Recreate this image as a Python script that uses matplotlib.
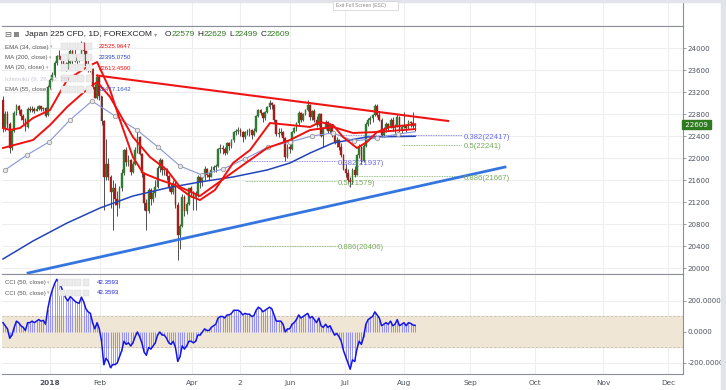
import matplotlib
matplotlib.use("Agg")
import matplotlib.pyplot as plt
from matplotlib.patches import Rectangle
import numpy as np

W, H = 726, 390

# ---------------- data ----------------
opens = [23050,22540,22800,22620,22180,22500,22810,22940,22870,22760,22690,22560,22900,22870,22890,22860,22900,22940,22890,22910,
         22780,23290,23420,23510,23720,23860,23850,23790,23710,23650,23720,23950,23870,23770,23810,23820,24100,23940,23670,23630,23620,23290,
         23100,23480,23120,22680,21650,21900,21650,21380,21450,21250,21150,21460,21720,22150,21920,21970,21740,21890,22150,22390,
         22070,21720,21180,21040,21420,21250,21370,21470,21820,21970,21780,21800,21680,21480,21380,21550,21150,20600,20760,21300,21030,21160,
         21450,21390,21290,21320,21650,21570,21680,21800,21690,21660,21780,21840,21850,22160,22190,22160,22090,22280,22220,22320,22470,
         22490,22510,22470,22380,22470,22470,22510,22410,22500,22760,22870,22820,22720,22840,22930,23000,22960,22690,22440,22450,22480,22360,22020,
         22200,22170,22480,22540,22630,22820,22690,22800,22880,
         22970,22740,22850,22700,22600,22800,22400,22550,22660,22500,22600,22420,22300,22330,22200,22050,21800,21720,21600,21560,21790,21700,
         22050,22200,21950,22220,22620,22700,22720,22780,22950,22780,22700,22420,22520,22620,22560,22700,22540,22580,22740,22520,22560,22580,
         22540,22660,22640,22579]
highs = [23120,22850,22850,22650,22520,22850,22980,22960,22900,22800,22720,22920,22950,22950,22920,22940,22960,22950,22930,22920,
         23320,23450,23560,23760,23880,23960,23900,23800,23750,23800,24000,23990,24080,23860,23900,24120,24110,23950,23780,23700,23640,23340,
         23520,23500,23130,22690,22350,22000,21700,21600,21550,21400,21500,21800,22160,22200,22050,21980,21950,22200,22500,22400,
         22100,21750,21250,21450,21450,21420,21600,21850,22000,21980,21850,21820,21700,21550,21600,21600,21200,20800,21350,21320,21200,21460,
         21500,21400,21400,21700,21700,21700,21850,21820,21750,21850,21880,21900,22180,22250,22230,22200,22300,22300,22350,22500,22520,
         22560,22540,22500,22500,22530,22550,22520,22550,22790,22900,22900,22830,22860,22950,23050,23020,22980,22700,22550,22550,22500,22380,22250,
         22250,22500,22560,22650,22850,22830,22820,22900,23050,
         22980,22880,22900,22760,22820,22820,22560,22700,22680,22640,22620,22450,22380,22350,22280,22080,21900,21800,21650,21820,21850,22080,
         22250,22220,22250,22650,22720,22760,22800,22980,22980,22850,22720,22560,22650,22640,22720,22740,22620,22800,22760,22600,22840,22620,
         22700,22680,22840,22629]
lows = [22480,22500,22550,22090,22150,22480,22780,22800,22700,22620,22500,22540,22830,22830,22820,22850,22870,22850,22860,22740,
        22760,23250,23400,23480,23700,23800,23700,23600,23580,23620,23700,23650,23750,23700,23750,23800,23900,23620,23560,23560,23250,23090,
        23080,23050,22600,21050,21600,21600,21100,20700,21150,20950,21100,21400,21700,21850,21850,21700,21720,21870,22100,22050,
        21650,21050,20700,21000,21150,21200,21300,21450,21750,21700,21700,21600,21400,21350,21350,21100,20150,20350,20740,20950,20980,21140,
        21300,21050,21050,21300,21450,21500,21600,21650,21600,21650,21750,21750,21840,22100,22080,22050,22080,22150,22180,22300,22420,
        22430,22400,22300,22350,22420,22400,22350,22400,22480,22740,22780,22650,22700,22820,22900,22900,22650,22400,22380,22420,22300,21950,22000,
        22100,22150,22450,22500,22600,22650,22680,22780,22850,
        22700,22700,22650,22560,22580,22380,22200,22520,22450,22460,22380,22250,22200,22150,22020,21780,21650,21550,21470,21530,21650,21690,
        22000,21900,21930,22200,22580,22620,22650,22760,22750,22680,22380,22390,22480,22500,22540,22500,22450,22560,22480,22450,22540,22480,
        22520,22560,22550,22499]
closes = [22540,22800,22620,22180,22500,22810,22940,22870,22760,22690,22560,22900,22870,22890,22860,22900,22940,22890,22910,22770,
          23290,23420,23510,23720,23860,23850,23790,23710,23650,23720,23950,23870,23770,23810,23820,24100,23940,23670,23630,23620,23290,23100,
          23480,23120,22680,21650,21900,21650,21380,21450,21250,21150,21460,21720,22150,21920,21970,21740,21890,22150,22390,22070,
          21720,21180,21040,21420,21250,21370,21470,21820,21970,21780,21800,21680,21480,21380,21550,21150,20600,20760,21300,21030,21160,21450,
          21390,21290,21320,21650,21570,21680,21800,21690,21660,21780,21840,21850,22160,22190,22160,22090,22280,22220,22320,22470,22490,
          22510,22470,22380,22470,22470,22510,22410,22500,22760,22870,22820,22720,22840,22930,23000,22960,22690,22440,22450,22480,22360,22020,22200,
          22170,22480,22540,22630,22820,22690,22800,22880,22970,
          22740,22850,22700,22600,22800,22400,22550,22660,22500,22600,22420,22300,22330,22200,22050,21800,21720,21600,21560,21790,21700,22050,
          22200,21950,22220,22620,22700,22720,22780,22950,22780,22700,22420,22520,22620,22560,22700,22540,22580,22740,22520,22560,22580,22540,
          22660,22640,22590,22609]

cci = [60,40,20,-40,-20,30,70,60,40,30,10,60,60,70,60,70,80,70,75,50,
       150,220,270,310,340,320,290,250,220,200,230,215,200,190,185,225,195,150,130,120,60,20,
       60,20,-60,-210,-170,-190,-230,-210,-210,-200,-160,-120,-60,-80,-70,-90,-70,-30,0,-30,
       -70,-130,-150,-100,-110,-90,-70,-20,0,-20,-20,-40,-70,-80,-60,-100,-190,-160,-90,-110,-90,-60,
       -60,-70,-60,-20,-20,0,20,10,10,30,40,50,90,100,100,90,110,110,120,140,140,
       140,130,110,120,115,115,100,105,140,160,150,130,140,150,160,150,110,70,70,70,50,0,20,
       20,50,60,80,110,90,100,110,120,
       90,100,80,60,90,40,30,50,30,40,10,-20,-10,-30,-60,-120,-160,-200,-240,-180,-190,-110,-60,-80,-30,
       50,80,90,100,130,110,90,40,50,60,50,70,40,50,80,40,50,60,40,60,55,45,42.36]

# indicator lines read at sample bars
ma200_x = [0, 13.4, 28.6, 43.3, 58.0, 73.2, 87.9, 102.7, 117.9, 128.1, 137.1, 147.3, 162.5, 184]
ma200_y = [20164, 20491, 20818, 21091, 21309, 21455, 21564, 21655, 21782, 21909, 22091, 22273, 22382, 22395]

ema55_x = [0.9, 10.7, 20.5, 29.9, 39.7, 50.0, 59.8, 69.2, 79.0, 88.8, 98.2, 108.0, 118.3, 128.1, 137.9, 147.3, 156.7, 167.0, 176.3, 184]
ema55_y = [21782, 22055, 22291, 22691, 23036, 22764, 22509, 22200, 21855, 21691, 21800, 21982, 22200, 22291, 22400, 22455, 22309, 22364, 22436, 22477]

ma20_x = [0, 3.1, 7.6, 13.4, 21.0, 28.6, 37.5, 42.0, 47.8, 52.2, 58.0, 62.5, 70.1, 76.8, 83.5, 87.9, 94.6, 102.7, 110.3, 119.2,
          128.1, 137.1, 141.5, 147.3, 151.8, 158.0, 162.5, 167.0, 172.8, 184]
ma20_y = [22545, 22509, 22545, 22727, 22873, 23418, 23655, 23745, 23236, 22691, 22018, 21727, 21600, 21509, 21309, 21236, 21418, 21909, 22145, 22636,
          22600, 22564, 22655, 22600, 22382, 22182, 22291, 22473, 22564, 22613]

ema34_x = [0, 13.4, 21.0, 28.6, 35.7, 42.0, 47.8, 58.0, 65.6, 73.2, 79.0, 87.9, 102.7, 117.9, 128.1, 137.1, 147.3, 156.3, 167.0, 184]
ema34_y = [22182, 22327, 22600, 22927, 23182, 23382, 23109, 22382, 22018, 21782, 21473, 21309, 21745, 22182, 22327, 22509, 22564, 22455, 22473, 22526]

# trend lines (bar, price)
down_x, down_y = [42.0, 198.7], [23500, 22673]
up_x, up_y = [11.2, 224.1], [19909, 21836]

# fibonacci levels
fib_labels = ["0.382(21937)", "0.5(21579)", "0.886(20406)", "0.382(22417)", "0.5(22241)", "0.886(21667)"]
fib_prices = [21937, 21579, 20406, 22417, 22241, 21667]
fib_x0 = [108.0, 108.0, 107.0, 150.0, 178.0, 155.0]
fib_x1 = [149.0, 149.0, 149.0, 205.0, 205.0, 205.0]
fib_kind = ["b", "g", "g", "b", "g", "g"]

month_labels = ["2018", "Feb", "Apr", "2", "Jun", "Jul", "Aug", "Sep", "Oct", "Nov", "Dec"]
month_pos = [20.9, 43.3, 84.4, 105.8, 128.1, 152.7, 179.0, 208.5, 237.5, 267.9, 296.9]

price_ticks = [20000, 20400, 20800, 21200, 21600, 22000, 22400, 22800, 23200, 23600, 24000]
cci_ticks = [-200, 0, 200]

# ---------------- figure ----------------
plt.rcParams['font.family'] = ["DejaVu Sans"]
SANS = ["Liberation Sans", "DejaVu Sans"]
TXT = "#4c525e"
GRID = "#eeeeee"
AXC = "#8a8f99"

fig = plt.figure(figsize=(W / 100, H / 100), dpi=100)
fig.patch.set_facecolor("white")

def fr(x0, y0, x1, y1):
    return [x0 / W, 1 - y1 / H, (x1 - x0) / W, (y1 - y0) / H]

BAR = 2.24
XL = (-1 / BAR, (683 - 3) / BAR)

ax_top = fig.add_axes(fr(2, 2, 683, 26))
ax = fig.add_axes(fr(2, 26, 683, 274))
axc = fig.add_axes(fr(2, 274, 683, 374))

for a in (ax_top, ax, axc):
    a.set_xlim(*XL)
    a.set_facecolor("white")
    a.spines["left"].set_visible(False)
    for s in ("top", "bottom", "right"):
        a.spines[s].set_color(AXC)
        a.spines[s].set_linewidth(0.8)
    a.set_xticks(month_pos)
    a.tick_params(axis="x", length=0, labelbottom=False)
    for p in month_pos:
        a.axvline(p, color=GRID, lw=0.8, zorder=0)
ax_top.spines["top"].set_visible(False)
ax_top.set_yticks([])
ax_top.set_ylim(0, 1)

# main panel
ax.set_ylim(19891, 24400)
ax.yaxis.tick_right()
ax.set_yticks(price_ticks)
ax.set_yticklabels([str(t) for t in price_ticks])
ax.tick_params(axis="y", length=2, width=0.6, color=AXC, labelsize=5.1, labelcolor=TXT, pad=1)
for p in price_ticks:
    ax.axhline(p, color=GRID, lw=0.8, zorder=0)

n = len(closes)
xs = np.arange(n)
o = np.array(opens); h = np.array(highs); l = np.array(lows); c = np.array(closes)
up = c >= o
UPC, DNC = "#2f7d32", "#a31d1d"
ax.vlines(xs, l, h, color="#333333", lw=0.6, zorder=3)
ax.bar(xs[up], (c - o)[up], bottom=o[up], width=0.8, color=UPC, edgecolor=UPC, lw=0.3, zorder=4)
ax.bar(xs[~up], (o - c)[~up], bottom=c[~up], width=0.8, color=DNC, edgecolor=DNC, lw=0.3, zorder=4)

ax.plot(ma200_x, ma200_y, color="#2443b8", lw=1.1, zorder=5)
ax.plot(ema55_x, ema55_y, color="#8796d8", lw=0.8, zorder=5, marker="o", markersize=3.2,
        markerfacecolor="#e8e8e8", markeredgecolor="#9a9a9a", markeredgewidth=0.6,
        markevery=list(range(len(ema55_x) - 1)))
ax.plot(ema34_x, ema34_y, color="#f01010", lw=1.4, zorder=6)
ax.plot(ma20_x, ma20_y, color="#f01010", lw=1.4, zorder=6)

ax.plot(down_x, down_y, color="#f01515", lw=1.5, zorder=7)
ax.plot(up_x, up_y, color="#3575e0", lw=2.0, zorder=7)

for lab, pr, x0, x1, k in zip(fib_labels, fib_prices, fib_x0, fib_x1, fib_kind):
    col = "#6a6af0" if k == "b" else "#77ab5a"
    ax.plot([x0, x1], [pr, pr], color=col, lw=0.6, ls=(0, (1, 1)), zorder=2)
    ax.text(x1 + 0.5, pr - 40, lab, color=col, fontsize=5.6, va="center", ha="left", zorder=8, family=SANS)

# current price box
last = closes[-1]
ax.text(1.0, last, " " + str(last) + " ", transform=ax.get_yaxis_transform(), fontsize=5.1, color="white",
        va="center", ha="left", clip_on=False, zorder=10,
        bbox=dict(boxstyle="square,pad=0.2", fc="#2e7a21", ec="#2e7a21"))

# CCI panel
axc.set_ylim(-271, 374)
axc.yaxis.tick_right()
axc.set_yticks(cci_ticks)
axc.set_yticklabels(["-200.0000", "0.0000", "200.0000"])
axc.tick_params(axis="y", length=2, width=0.6, color=AXC, labelsize=5.1, labelcolor=TXT, pad=1)
for p in cci_ticks:
    axc.axhline(p, color=GRID, lw=0.8, zorder=0)
axc.axhspan(-100, 100, color="#efe6d6", zorder=0.5)
axc.axhline(100, color="#c8bfae", lw=0.6, ls=(0, (3, 2)), zorder=1)
axc.axhline(-100, color="#c8bfae", lw=0.6, ls=(0, (3, 2)), zorder=1)
axc.vlines(xs, 0, cci, color="#6b6bff", lw=0.6, alpha=0.8, zorder=2)
axc.plot(xs, cci, color="#1414e6", lw=1.1, zorder=3)

axc.tick_params(axis="x", labelbottom=True, length=0, labelsize=5.3, labelcolor=TXT, pad=4)
axc.set_xticklabels(month_labels)
axc.get_xticklabels()[0].set_fontweight("bold")

# ---------------- decorations ----------------
fig.patches.append(Rectangle((721 / W, 0), 5 / W, 1, transform=fig.transFigure, color="#e1e4ea", zorder=0))
fig.patches.append(Rectangle((0, 1 - 2 / H), 1, 2 / H, transform=fig.transFigure, color="#e1e4ea", zorder=0))

def ftext(x, y, s, **kw):
    return fig.text(x / W, 1 - y / H, s, va="center", ha="left", **kw)

renderer = fig.canvas.get_renderer()

def seq_text(x, y, parts, gap=0.0):
    for s, kw in parts:
        t = ftext(x, y, s, **kw)
        bb = t.get_window_extent(renderer=renderer)
        x += bb.width + gap
    return x

# tooltip
fig.patches.append(Rectangle((333 / W, 1 - 10 / H), 65 / W, 9 / H, transform=fig.transFigure,
                             fc="white", ec="#cfcfcf", lw=0.5, zorder=5))
ftext(336, 5, "Exit Full Screen (ESC)", fontsize=3.6, color="#888888", zorder=6, family=SANS)

ftext(4, 34.5, "\u229f", fontsize=6, color="#666666")
fig.patches.append(Rectangle((14 / W, 1 - 37 / H), 5 / W, 5 / H, transform=fig.transFigure, fc="#888888", ec="none"))
xt = seq_text(25, 34.5, [("Japan 225 CFD, 1D, FOREXCOM", dict(fontsize=6.0, color="#222222", family=SANS))])
ftext(xt + 2, 34.5, "\u25be", fontsize=4.5, color="#999999")
ohlc_txt = [("O", "22579"), ("H", "22629"), ("L", "22499"), ("C", "22609")]
xx = 165
for k, v in ohlc_txt:
    xx = seq_text(xx, 34.5, [(k, dict(fontsize=6.0, color="#222222", family=SANS)),
                             (v, dict(fontsize=6.0, color="#2e7a21", family=SANS))])
    xx += 3

rows = [("EMA (34, close)", "22525.9647", "#f01010", 47, "#555555"),
        ("MA (200, close)", "22395.0750", "#2443b8", 57.5, "#555555"),
        ("MA (20, close)", "22613.4500", "#f01010", 68, "#555555"),
        ("Ichimoku (9, 26, 52, 26)", "", None, 79, "#c5c8cf"),
        ("EMA (55, close)", "22477.1642", "#3050c8", 89.5, "#555555")]
for name, val, col, y, tc in rows:
    xe = seq_text(5, y, [(name, dict(fontsize=4.4, color=tc, family=SANS))])
    if val:
        ftext(xe + 1.5, y, "\u25be", fontsize=3.4, color="#aaaaaa")
    for k in range(4):
        fig.patches.append(Rectangle(((61 + 8.2 * k) / W, 1 - (y + 3) / H), 6.5 / W, 6.5 / H,
                                     transform=fig.transFigure, fc="#ebebeb", ec="#d6d6d6", lw=0.3))
    if val:
        ftext(99, y, val, fontsize=4.4, color=col, family=SANS)

for y in (282.5, 293):
    xe = seq_text(5, y, [("CCI (50, close)", dict(fontsize=4.4, color="#555555", family=SANS))])
    ftext(xe + 1.5, y, "\u25be", fontsize=3.4, color="#aaaaaa")
    for k in range(4):
        fig.patches.append(Rectangle(((58 + 8.2 * k) / W, 1 - (y + 3) / H), 6.5 / W, 6.5 / H,
                                     transform=fig.transFigure, fc="#ebebeb", ec="#d6d6d6", lw=0.3))
    ftext(97, y, "42.3593", fontsize=4.4, color="#2020e0", family=SANS)

fig.savefig("out.png", dpi=100)
